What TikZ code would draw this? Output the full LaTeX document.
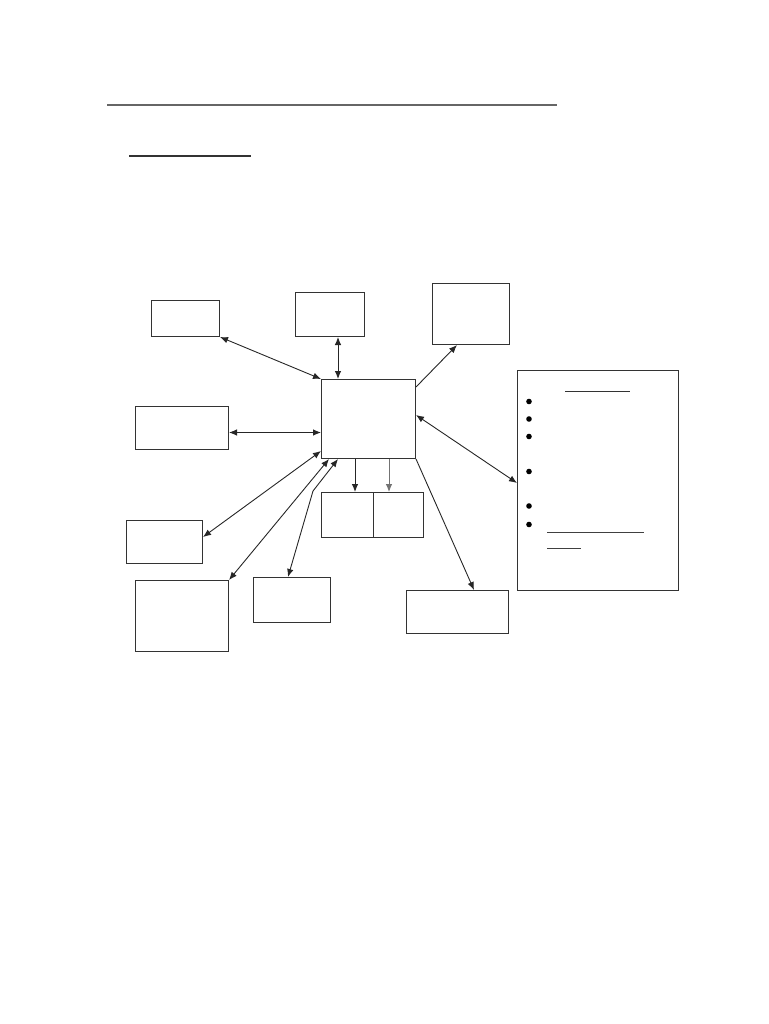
\documentclass[tikz,border=0pt]{standalone}
\usepackage{tikz}
\usetikzlibrary{calc,arrows.meta}

\tikzset{
  box/.style={draw=black!80,line width=1pt,inner sep=0pt,anchor=north west},
  link/.style={draw=black!85,line width=0.9pt,>={Latex[length=8pt,width=6.5pt]}},
}

\begin{document}
\begin{tikzpicture}[x=1pt,y=-1pt]
        \useasboundingbox (0,0) rectangle (768,1024);
        % heading rules
        \draw[line width=1.6pt,color=black!60] (107,105)--(557,105);
        \draw[line width=1.2pt,color=black!80] (129,156)--(251,156);
        % boxes
        \node[box,minimum width=94pt,minimum height=79pt] (nM) at (321,379) {};
        \node[box,minimum width=68pt,minimum height=36pt] (nA) at (151,300) {};
        \node[box,minimum width=69pt,minimum height=44pt] (nB) at (295,292) {};
        \node[box,minimum width=77pt,minimum height=61pt] (nC) at (432,283) {};
        \node[box,minimum width=93pt,minimum height=43pt] (nD) at (135,406) {};
        \node[box,minimum width=76pt,minimum height=43pt] (nF) at (126,520) {};
        \node[box,minimum width=93pt,minimum height=71pt] (nG) at (135,580) {};
        \node[box,minimum width=77pt,minimum height=45pt] (nH) at (253,577) {};
        \node[box,minimum width=102pt,minimum height=43pt] (nI) at (406,590) {};
        \node[box,minimum width=52pt,minimum height=45pt] (nEa) at (321,492) {};
        \node[box,minimum width=50pt,minimum height=45pt] (nEb) at (373,492) {};
        \node[box,minimum width=161pt,minimum height=220pt] (nR) at (517,370) {};
        % connectors
        \draw[link,<->] (nA.south east) -- (nM.north west);
        \draw[link,<->] ([xshift=43]nB.south west) coordinate (b1) -- (b1 |- nM.north);
        \draw[link,<->] ([yshift=-4.5]nD.east) coordinate (d1) -- (d1 -| nM.west);
        \draw[link,->] ([yshift=-8]nM.north east) -- ([xshift=25]nC.south west);
        \draw[link,<->] ([yshift=-36]nM.north east) -- ([yshift=-113]nR.north west);
        \draw[link,->] ([xshift=34]nM.south west) coordinate (m1) -- (m1 |- nEa.north);
        \draw[link,->,draw=black!55] ([xshift=68]nM.south west) coordinate (m2) -- (m2 |- nEb.north);
        \draw[link,->] (nM.south east) -- ([xshift=68]nI.north west);
        \draw[link,<->] ([yshift=8]nM.south west) -- ([yshift=-17]nF.north east);
        \draw[link,<->] ([xshift=8]nM.south west) -- (nG.north east);
        \draw[link,<->] ([xshift=17]nM.south west) -- (313,491) -- ([xshift=35]nH.north west);
        % inside the right box
        \draw[line width=1pt,color=black!80] (565,391)--(630,391);
        \fill (529,401.5) circle(2.8pt);
        \fill (529,419) circle(2.8pt);
        \fill (529,436.5) circle(2.8pt);
        \fill (529,471.5) circle(2.8pt);
        \fill (529,506) circle(2.8pt);
        \fill (529,524.5) circle(2.8pt);
        \draw[line width=1pt,color=black!75] (547,532)--(644,532);
        \draw[line width=1pt,color=black!75] (547,548)--(581,548);
      \end{tikzpicture}
\end{document}
